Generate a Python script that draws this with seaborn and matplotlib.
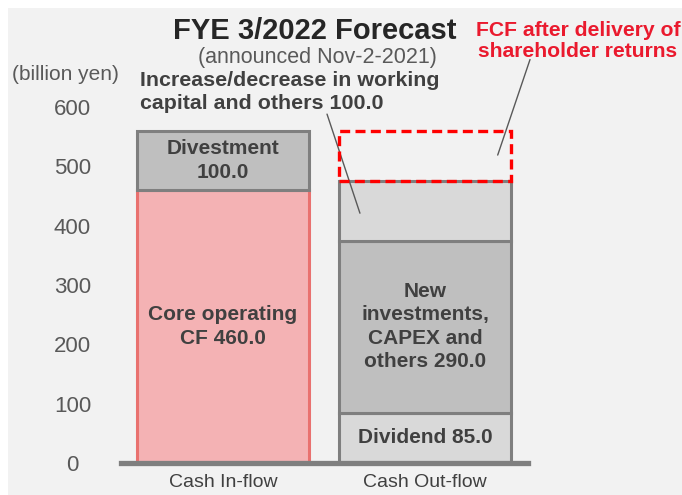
import numpy as np
import pandas as pd
import matplotlib
matplotlib.use("Agg")
import matplotlib.pyplot as plt
from matplotlib.patches import Rectangle
import seaborn as sns

# カテゴリ
categories = ["Cash In-flow", "Cash Out-flow"]

# Cash In-flow (bottom -> top)
inflow_values = [460.0, 100.0]
inflow_labels = ["Core operating\nCF 460.0", "Divestment\n100.0"]
inflow_colors = ["#f4b2b4", "#bfbfbf"]
inflow_edges = ["#e9716f", "#7f7f7f"]

# Cash Out-flow (bottom -> top): dividend, new investments, working capital, FCF
outflow_values = [85.0, 290.0, 100.0, 85.0]
outflow_labels = ["Dividend 85.0", "New\ninvestments,\nCAPEX and\nothers 290.0", "", ""]
outflow_colors = ["#d9d9d9", "#bfbfbf", "#d9d9d9", "none"]

y_ticks = [0, 100, 200, 300, 400, 500, 600]

TXT = "#404040"
RED = "#ea1a2e"
GRAY_EDGE = "#7f7f7f"

sns.set_style("white")
plt.rcParams["font.family"] = ["Liberation Sans", "DejaVu Sans"]

fig = plt.figure(figsize=(6.82, 4.95), dpi=100)
fig.patches.append(Rectangle((8 / 682, 0), 1, 1 - 8 / 495, transform=fig.transFigure,
                             facecolor="#f2f2f2", edgecolor="none", zorder=-10))
ax = fig.add_axes([121 / 682, 32 / 495, 407 / 682, 356 / 495])
ax.set_facecolor("none")

# 積み上げ棒
bottom = 0.0
for val, lab, fc, ec in zip(inflow_values, inflow_labels, inflow_colors, inflow_edges):
    df = pd.DataFrame({"cat": [categories[0]], "val": [val]})
    sns.barplot(data=df, x="cat", y="val", order=categories, width=0.85, errorbar=None,
                bottom=bottom, facecolor=fc, edgecolor=ec, linewidth=2.2, ax=ax)
    ax.text(0, bottom + val / 2, lab, ha="center", va="center", fontsize=15,
            fontweight="bold", color=TXT, linespacing=1.3)
    bottom += val

bottom = 0.0
for i, (val, lab, fc) in enumerate(zip(outflow_values, outflow_labels, outflow_colors)):
    df = pd.DataFrame({"cat": [categories[1]], "val": [val]})
    if i == len(outflow_values) - 1:
        # FCF after delivery of shareholder returns -> red dashed box
        sns.barplot(data=df, x="cat", y="val", order=categories, width=0.85, errorbar=None,
                    bottom=bottom, facecolor="none", edgecolor="#ff0000", linewidth=2.4,
                    linestyle=(0, (3, 1.6)), ax=ax, zorder=3)
    else:
        sns.barplot(data=df, x="cat", y="val", order=categories, width=0.85, errorbar=None,
                    bottom=bottom, facecolor=fc, edgecolor=GRAY_EDGE, linewidth=2.2, ax=ax)
    if lab:
        ax.text(1, bottom + val / 2, lab, ha="center", va="center", fontsize=15,
                fontweight="bold", color=TXT, linespacing=1.3)
    bottom += val

# 引き出し線
wc_bottom = sum(outflow_values[:2])
fcf_bottom = sum(outflow_values[:3])
ax.plot([0.515, 0.678], [588, wc_bottom + 46], color="#595959", lw=1, clip_on=False)
ax.plot([1.52, 1.36], [680, fcf_bottom + 44], color="#595959", lw=1, clip_on=False)

ax.set_xlim(-0.505, 1.51)
ax.set_ylim(0, 600)
ax.set_yticks(y_ticks)
ax.set_xlabel("")
ax.set_ylabel("")
for s in ["top", "right", "left"]:
    ax.spines[s].set_visible(False)
ax.spines["bottom"].set_color(GRAY_EDGE)
ax.spines["bottom"].set_linewidth(3.8)
ax.tick_params(axis="y", length=0, pad=35, labelsize=16, labelcolor="#595959")
ax.tick_params(axis="x", length=0, pad=8, labelsize=14, labelcolor=TXT)
plt.setp(ax.get_yticklabels(), ha="center")

fig.text(65 / 682, 1 - 75 / 495, "(billion yen)", ha="center", va="center",
         fontsize=15, color="#595959")
fig.text(315 / 682, 1 - 31 / 495, "FYE 3/2022 Forecast", ha="center", va="center",
         fontsize=21, fontweight="bold", color="#262626")
fig.text(317 / 682, 1 - 57 / 495, "(announced Nov-2-2021)", ha="center", va="center",
         fontsize=15.5, color="#595959")
fig.text(140 / 682, 1 - 92 / 495, "Increase/decrease in working\ncapital and others 100.0",
         ha="left", va="center", fontsize=15.4, fontweight="bold", color=TXT, linespacing=1.26)
fig.text(578 / 682, 1 - 41 / 495, "FCF after delivery of\nshareholder returns",
         ha="center", va="center", fontsize=15.2, fontweight="bold", color=RED, linespacing=1.15)

fig.savefig("out.png", dpi=100)
